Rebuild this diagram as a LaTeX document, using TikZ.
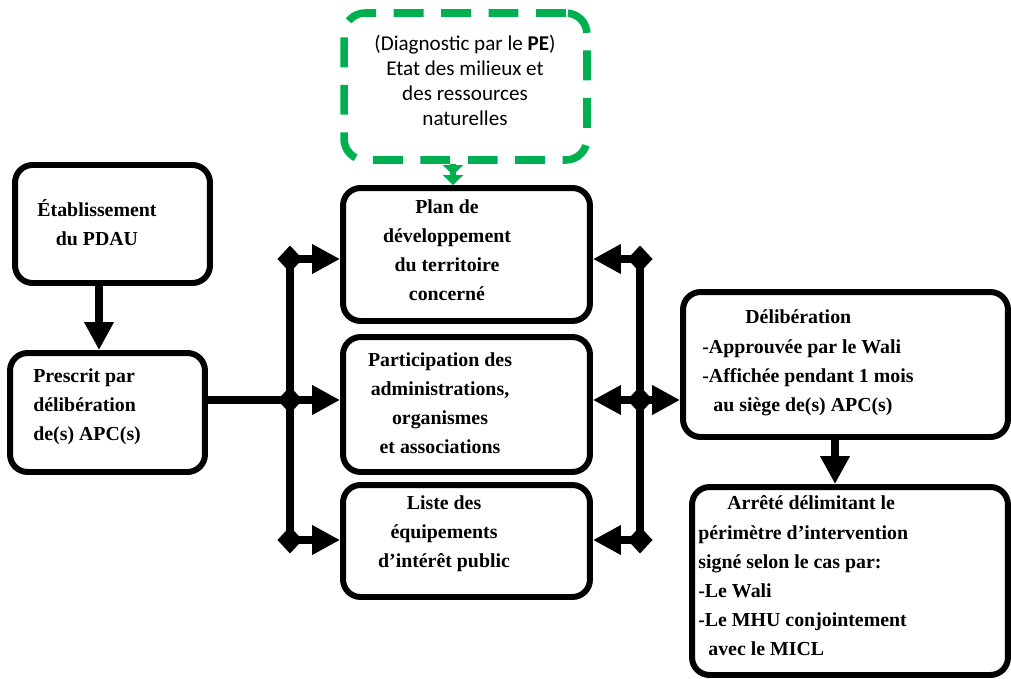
\documentclass[tikz,border=0pt]{standalone}
\usepackage{fontspec}
\setmainfont{Liberation Serif}[BoldFont={Liberation Serif Bold}]
\newfontfamily\procfont{Liberation Serif}[BoldFont={Liberation Serif Bold}]
\newfontfamily\notefont{Carlito}
\usepackage{xcolor}
\usepackage{tikz}
\usetikzlibrary{arrows.meta, positioning, calc}
\definecolor{notegreen}{RGB}{0,176,80}
\tikzset{
  procbox/.style={
    draw, rounded corners=10pt, line width=3.4pt, fill=white
  },
  proctext/.style={
    font=\procfont\bfseries\fontsize{11.3}{16.6}\selectfont, inner sep=0pt
  },
  notebox/.style={
    draw=notegreen, dash pattern=on 17pt off 10pt, line width=4.3pt,
    rounded corners=12pt, fill=white
  },
  notetext/.style={
    font=\notefont\fontsize{12}{14.2}\selectfont, inner sep=0pt, align=center
  },
  flowarrow/.style={
    -{Triangle[length=0.56cm, width=0.56cm]}, line width=4.5pt
  },
  busline/.style={line width=4.5pt},
  busarrow/.style={
    {Diamond[length=0.5cm, width=0.54cm]}-{Triangle[length=0.56cm, width=0.56cm]},
    line width=4.5pt, shorten <=-0.25cm
  },
  notearrow/.style={
    -{Triangle[length=0.2cm, width=0.4cm]Triangle[length=0.2cm, width=0.4cm]},
    line width=3.4pt, notegreen
  },
}

\begin{document}
\begin{tikzpicture}[x=0.02cm, y=-0.02cm]
  \useasboundingbox (0,0) rectangle (1011,679);

  % ── Left column ────────────────────────────────────────────────
  \node[procbox, minimum width=3.9cm, minimum height=2.36cm]
    (etab) at (112.5,224) {};
  \node[proctext, align=center] (etab-txt) at (97,223)
    {Établissement\\du PDAU};

  \node[procbox, minimum width=3.9cm, minimum height=2.38cm]
    (prescrit) at (107.5,412.5) {};
  \node[proctext, align=left, anchor=west] (prescrit-txt) at (33,407)
    {Prescrit par\\délibération\\de(s) APC(s)};

  \draw[flowarrow] ([xshift=-0.27cm]etab.south)
    -- ([xshift=-0.27cm]etab.south |- prescrit.north);

  % ── Green diagnostic note ──────────────────────────────────────
  \node[notebox, minimum width=4.86cm, minimum height=2.94cm]
    (diag) at (465.5,86.5) {};
  \node[notetext] (diag-txt) at (465,80)
    {(Diagnostic par le \textbf{PE})\\Etat des milieux et\\des ressources\\naturelles};

  % ── Middle column ──────────────────────────────────────────────
  \node[procbox, minimum width=4.94cm, minimum height=2.66cm]
    (plan) at (466.5,254.5) {};
  \node[proctext, align=center] (plan-txt) at (447,250)
    {Plan de\\développement\\du territoire\\concerné};

  \node[procbox, minimum width=4.94cm, minimum height=2.7cm]
    (partic) at (466.5,404.5) {};
  \node[proctext, align=center] (partic-txt) at (440,403)
    {Participation des\\administrations,\\organismes\\et associations};

  \node[procbox, minimum width=4.94cm, minimum height=2.24cm]
    (liste) at (466.5,541) {};
  \node[proctext, align=center] (liste-txt) at (444,534)
    {Liste des\\équipements\\d’intérêt public};

  \draw[notearrow] ([xshift=-0.25cm]diag.south)
    -- ([xshift=-0.25cm]diag.south |- plan.north);

  % ── Right column ───────────────────────────────────────────────
  \node[procbox, minimum width=6.5cm, minimum height=2.9cm]
    (delib) at (845.5,364.5) {};
  \node[proctext, align=left, anchor=west] (delib-txt) at (702,363)
    {\hspace*{0.86cm}Délibération\\-Approuvée par le Wali\\-Affichée pendant 1 mois\\\hspace*{0.22cm}au siège de(s) APC(s)};

  \node[procbox, minimum width=6.32cm, minimum height=3.76cm]
    (arrete) at (850,581) {};
  \node[proctext, align=left, anchor=west] (arrete-txt) at (698,576)
    {\hspace*{0.58cm}Arrêté délimitant le\\périmètre d’intervention\\signé selon le cas par:\\-Le Wali\\-Le MHU conjointement\\\hspace*{0.2cm}avec le MICL};

  \draw[flowarrow] ([xshift=-0.21cm]delib.south)
    -- ([xshift=-0.21cm]delib.south |- arrete.north);

  % ── Distribution buses ─────────────────────────────────────────
  \coordinate (lbus-top) at (290,259);
  \coordinate (lbus-mid) at (290,400);
  \coordinate (lbus-bot) at (290,540);
  \coordinate (rbus-top) at (640,259);
  \coordinate (rbus-mid) at (640,400);
  \coordinate (rbus-bot) at (640,540);

  \draw[busline] (lbus-top) -- (lbus-bot);
  \draw[busline] (rbus-top) -- (rbus-bot);
  \draw[busline] (prescrit.east |- lbus-mid) -- (lbus-mid);

  \foreach \row/\target in {top/plan, mid/partic, bot/liste} {
    \draw[busarrow] (lbus-\row) -- (lbus-\row -| \target.west);
    \draw[busarrow] (rbus-\row) -- (rbus-\row -| \target.east);
  }
  \draw[busarrow] (rbus-mid) -- (rbus-mid -| delib.west);
\end{tikzpicture}
\end{document}
